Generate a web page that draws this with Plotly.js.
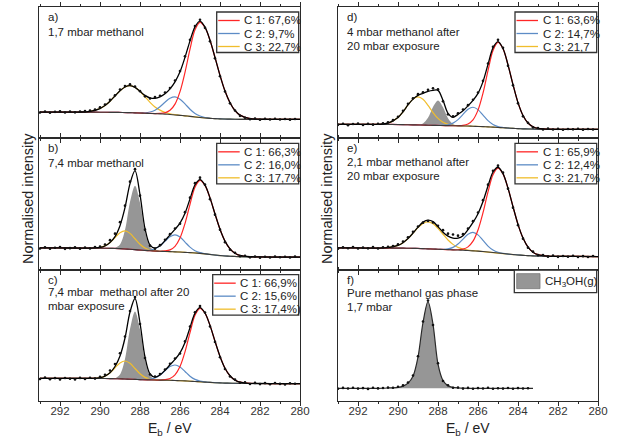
<!DOCTYPE html>
<html><head><meta charset="utf-8">
<script src="https://cdn.plot.ly/plotly-3.0.1.min.js"></script>
<style>html,body{margin:0;padding:0;background:#fff;} #chart{width:624px;height:438px;}</style>
</head><body><div id="chart"></div>
<script>
// ---------------- DATA ----------------
// binding energy grid for fitted curves (eV)
const E = [293,292,291,290.5,290,289.75,289.5,289.25,289,288.75,288.5,288.25,288,287.75,287.5,287.25,287,286.75,286.5,286.25,286,285.75,285.5,285.25,285,284.75,284.5,284.25,284,283.75,283.5,283.25,283,282.5,282,281,280];
// binding energy of measured points (eV)
const E_DOTS = [293,292.75,292.5,292.25,292,291.75,291.5,291.25,291,290.75,290.5,290.25,290,289.75,289.5,289.25,289,288.75,288.5,288.25,288,287.75,287.5,287.25,287,286.75,286.5,286.25,286,285.75,285.5,285.25,285,284.75,284.5,284.25,284,283.75,283.5,283.25,283,282.75,282.5,282.25,282,281.75,281.5,281.25,281,280.75,280.5,280.25];
const E_F = [293,292,291,290.5,290,289.75,289.5,289.25,289,288.75,288.5,288.25,288,287.75,287.5,287.25,287,286.75,286.5,286.25,286,285.75,285.5,285.25,285,284.75,284.5,284.25,284,283.75,283.5,283.25];
const E_F_DOTS = [293,292.75,292.5,292.25,292,291.75,291.5,291.25,291,290.75,290.5,290.25,290,289.75,289.5,289.25,289,288.75,288.5,288.25,288,287.75,287.5,287.25,287,286.75,286.5,286.25,286,285.75,285.5,285.25,285,284.75,284.5,284.25,284,283.75,283.5];

// panel a) 1,7 mbar methanol
const bgA  = [26.3,26.3,26.2,26.2,26.1,26.1,26.0,26.0,25.9,25.8,25.7,25.5,25.3,25.1,24.9,24.7,24.5,24.2,23.8,23.4,23.0,22.5,22.0,21.4,20.9,20.4,20.0,19.7,19.5,19.3,19.2,19.1,19.0,19.0,19.0,19.0,19.0];
const c1A  = [26.3,26.3,26.2,26.2,26.1,26.1,26.0,26.0,25.9,25.8,25.7,25.5,25.3,25.1,24.9,24.8,24.9,25.5,28.0,34.2,46.7,66.0,89.1,108.5,115.9,110.8,98.1,80.9,63.0,47.3,35.6,27.8,23.2,19.7,19.1,19.0,19.0];
const c2A  = [26.3,26.3,26.2,26.2,26.1,26.1,26.0,26.0,25.9,25.8,25.7,25.5,25.4,25.5,26.3,28.1,31.6,36.1,40.0,41.4,39.2,34.4,29.1,24.8,22.3,20.8,20.1,19.7,19.5,19.3,19.2,19.1,19.0,19.0,19.0,19.0,19.0];
const c3A  = [26.3,26.3,26.3,27.0,29.8,32.8,37.1,42.4,47.5,51.3,52.7,51.0,46.9,41.5,36.0,31.4,28.2,26.0,24.6,23.7,23.1,22.5,22.0,21.4,20.9,20.4,20.0,19.7,19.5,19.3,19.2,19.1,19.0,19.0,19.0,19.0,19.0];
const envA = [26.3,26.3,26.3,27.0,29.8,32.8,37.1,42.4,47.5,51.3,52.7,51.0,47.0,43.0,40.5,40.0,41.5,44.5,49.5,56.5,66.5,81.0,97.5,111.5,117.3,111.2,98.2,80.9,63.0,47.3,35.6,27.8,23.2,19.7,19.1,19.0,19.0];
const dotsA = [25.8,26.9,25.6,26.5,27.0,25.9,26.8,26.0,26.9,27.2,27.8,28.9,31.0,33.9,38.5,43.0,48.9,52.4,54.0,51.8,47.2,42.0,39.9,41.2,42.6,45.8,50.3,57.9,67.4,82.0,98.5,112.4,118.6,110.5,97.0,80.0,62.1,46.8,35.0,27.9,22.5,20.6,19.2,19.9,18.6,19.5,18.8,19.6,18.9,19.4,18.7,19.3];

// panel b) 7,4 mbar methanol
const bgB  = [21.7,21.7,21.6,21.5,21.5,21.4,21.3,21.2,21.0,20.7,20.4,20.0,19.6,19.2,18.9,18.6,18.4,18.2,18.0,17.8,17.6,17.3,17.0,16.7,16.3,15.8,15.2,14.6,14.1,13.7,13.4,13.2,13.0,12.8,12.7,12.6,12.5];
const gasB = [21.7,21.7,21.6,21.5,21.5,21.4,21.3,21.7,25.1,39.6,67.6,84.0,66.8,38.1,23.0,19.1,18.4,18.2,18.0,17.8,17.6,17.3,17.0,16.7,16.3,15.8,15.2,14.6,14.1,13.7,13.4,13.2,13.0,12.8,12.7,12.6,12.5];
const c1B  = [21.7,21.7,21.6,21.5,21.5,21.4,21.3,21.2,21.0,20.7,20.4,20.0,19.6,19.2,18.9,18.6,18.4,18.7,19.8,23.3,31.6,46.1,65.3,82.5,89.3,84.3,71.8,55.7,40.4,28.5,20.8,16.4,14.2,12.9,12.7,12.6,12.5];
const c2B  = [21.7,21.7,21.6,21.5,21.5,21.4,21.3,21.2,21.0,20.7,20.4,20.0,19.6,19.4,19.6,20.9,23.9,28.5,33.0,34.8,32.6,27.6,22.5,19.0,17.0,16.0,15.2,14.6,14.1,13.7,13.4,13.2,13.0,12.8,12.7,12.6,12.5];
const c3B  = [21.7,21.7,21.6,21.5,22.3,23.8,27.1,32.1,36.9,38.7,36.3,30.9,25.4,21.6,19.7,18.8,18.4,18.2,18.0,17.8,17.6,17.3,17.0,16.7,16.3,15.8,15.2,14.6,14.1,13.7,13.4,13.2,13.0,12.8,12.7,12.6,12.5];
const envB = [21.7,21.7,21.6,21.6,22.2,23.7,27.1,33.0,44.0,62.0,86.0,99.0,75.0,41.0,24.5,21.6,23.9,29.0,34.8,40.3,46.6,56.4,70.8,84.8,90.0,84.5,71.8,55.7,40.4,28.5,20.8,16.4,14.2,12.9,12.7,12.6,12.5];
const dotsB = [21.2,22.4,20.9,21.9,22.6,20.8,21.5,22.3,21.0,22.1,21.2,22.6,23.0,25.2,29.5,36.0,47.5,64.0,88.0,100.5,74.0,40.0,24.0,21.0,24.5,29.8,35.5,41.2,46.0,57.5,72.0,86.5,92.0,85.0,70.5,55.0,40.0,27.5,20.0,16.8,13.5,13.9,12.3,13.2,12.0,12.9,12.2,13.1,12.4,12.9,12.1,13.0];

// panel c) 7,4 mbar methanol after 20 mbar exposure
const bgC  = [22.7,22.7,22.6,22.6,22.5,22.5,22.4,22.3,22.2,22.0,21.8,21.6,21.4,21.2,21.1,21.0,20.9,20.8,20.7,20.5,20.3,20.1,19.8,19.5,19.2,18.9,18.6,18.3,18.1,17.9,17.8,17.7,17.6,17.5,17.5,17.4,17.4];
const gasC = [22.7,22.7,22.6,22.6,22.5,22.5,22.4,22.8,26.6,42.1,71.9,89.6,71.5,41.3,25.5,21.5,20.9,20.8,20.7,20.5,20.3,20.1,19.8,19.5,19.2,18.9,18.6,18.3,18.1,17.9,17.8,17.7,17.6,17.5,17.5,17.4,17.4];
const c1C  = [22.7,22.7,22.6,22.6,22.5,22.5,22.4,22.3,22.2,22.0,21.8,21.6,21.4,21.2,21.1,21.0,20.9,21.3,22.5,26.1,34.4,49.1,68.4,85.8,92.7,87.8,75.6,59.7,44.6,32.8,25.2,20.9,18.8,17.6,17.5,17.4,17.4];
const c2C  = [22.7,22.7,22.6,22.6,22.5,22.5,22.4,22.3,22.2,22.0,21.8,21.6,21.4,21.4,21.8,23.1,25.9,30.2,34.4,36.0,34.0,29.5,24.8,21.6,19.9,19.1,18.6,18.3,18.1,17.9,17.8,17.7,17.6,17.5,17.5,17.4,17.4];
const c3C  = [22.7,22.7,22.6,22.6,23.3,24.9,28.2,33.2,38.1,40.0,37.7,32.5,27.2,23.6,21.9,21.2,20.9,20.8,20.7,20.5,20.3,20.1,19.8,19.5,19.2,18.9,18.6,18.3,18.1,17.9,17.8,17.7,17.6,17.5,17.5,17.4,17.4];
const envC = [22.7,22.7,22.6,22.6,23.3,24.9,28.2,34.5,45.0,63.0,89.0,102.5,78.0,44.0,27.0,23.8,26.0,30.7,36.2,41.6,48.1,58.5,73.4,87.9,93.4,88.0,75.6,59.7,44.6,32.8,25.2,20.9,18.8,17.6,17.5,17.4,17.4];
const dotsC = [22.0,23.4,21.8,22.9,21.5,23.0,22.2,21.6,23.1,22.0,23.2,22.4,24.3,26.2,30.5,37.0,47.8,64.5,90.0,104.0,77.0,43.0,26.5,24.5,27.0,31.5,37.3,42.5,47.5,59.6,74.5,88.8,95.0,88.5,74.5,59.0,43.8,32.0,24.6,21.5,18.2,18.6,17.0,18.1,16.9,17.9,16.8,18.0,17.1,16.6,17.8,17.2];

// panel d) 4 mbar methanol after 20 mbar exposure
const bgD  = [14.0,14.0,13.9,13.9,13.8,13.7,13.6,13.5,13.4,13.3,13.1,13.0,12.9,12.8,12.7,12.6,12.5,12.4,12.3,12.1,11.9,11.7,11.5,11.2,10.9,10.6,10.3,10.0,9.7,9.5,9.4,9.3,9.2,9.1,9.0,9.0,9.0];
const gasD = [14.0,14.0,13.9,13.9,13.8,13.7,13.6,13.5,13.6,14.9,20.5,31.4,37.9,31.2,20.1,14.2,12.7,12.4,12.3,12.1,11.9,11.7,11.5,11.2,10.9,10.6,10.3,10.0,9.7,9.5,9.4,9.3,9.2,9.1,9.0,9.0,9.0];
const c1D  = [14.0,14.0,13.9,13.9,13.8,13.7,13.6,13.5,13.4,13.3,13.1,13.0,12.9,12.8,12.7,12.6,12.6,12.9,14.4,18.5,28.2,45.2,67.7,87.9,95.9,89.6,73.5,53.7,35.7,22.8,15.3,11.6,9.9,9.2,9.0,9.0,9.0];
const c2D  = [14.0,14.0,13.9,13.9,13.8,13.7,13.6,13.5,13.4,13.3,13.1,13.0,12.9,13.0,13.5,15.2,18.7,23.9,29.1,31.1,28.7,23.2,17.7,13.8,11.7,10.8,10.3,10.0,9.7,9.5,9.4,9.3,9.2,9.1,9.0,9.0,9.0];
const c3D  = [14.0,14.0,14.0,15.1,20.8,26.5,33.4,39.2,41.4,39.0,32.9,25.8,19.9,16.0,13.9,13.0,12.6,12.4,12.3,12.1,11.9,11.7,11.5,11.2,10.9,10.6,10.3,10.0,9.7,9.5,9.4,9.3,9.2,9.1,9.0,9.0,9.0];
const envD = [14.0,14.0,14.0,15.1,20.8,26.5,33.4,39.2,43.0,45.0,47.0,48.0,48.0,38.0,25.0,21.0,24.0,27.5,32.5,38.0,45.0,56.7,73.9,90.5,96.7,89.8,73.5,53.7,35.7,22.8,15.3,11.6,9.9,9.2,9.0,9.0,9.0];
const dotsD = [13.5,14.6,13.2,14.3,14.8,13.4,14.5,13.7,14.6,15.0,16.0,18.2,21.5,27.5,34.6,40.0,44.2,46.0,48.5,50.0,49.0,37.0,24.0,22.0,25.0,28.8,33.2,38.6,45.8,57.5,74.8,91.5,98.5,90.5,72.5,53.0,35.0,22.0,15.5,11.0,10.4,8.8,9.7,8.9,9.5,8.6,9.4,9.0,9.6,8.7,9.3,8.8];

// panel e) 2,1 mbar methanol after 20 mbar exposure
const bgE  = [21.7,21.7,21.6,21.6,21.5,21.5,21.4,21.3,21.2,21.0,20.8,20.6,20.4,20.2,20.0,19.8,19.6,19.4,19.1,18.8,18.5,18.1,17.6,17.1,16.6,16.1,15.6,15.1,14.7,14.3,14.0,13.8,13.6,13.4,13.3,13.2,13.1];
const c1E  = [21.7,21.7,21.6,21.6,21.5,21.5,21.4,21.3,21.2,21.0,20.8,20.6,20.4,20.2,20.0,19.8,19.9,20.6,22.8,28.5,39.7,57.0,77.7,95.0,101.6,95.8,81.5,63.0,45.3,31.6,22.6,17.5,15.0,13.5,13.3,13.2,13.1];
const c2E  = [21.7,21.7,21.6,21.6,21.5,21.5,21.4,21.3,21.2,21.0,20.8,20.6,20.4,20.4,20.8,22.3,25.6,30.6,35.4,37.3,34.8,29.3,23.6,19.6,17.4,16.3,15.6,15.1,14.7,14.3,14.0,13.8,13.6,13.4,13.3,13.2,13.1];
const c3E  = [21.7,21.7,21.6,22.1,24.2,27.0,31.1,36.5,42.1,46.3,47.8,45.9,41.3,35.4,29.7,25.3,22.3,20.6,19.6,19.0,18.5,18.1,17.6,17.1,16.6,16.1,15.6,15.1,14.7,14.3,14.0,13.8,13.6,13.4,13.3,13.2,13.1];
const envE = [21.7,21.7,21.6,22.1,24.2,27.0,31.1,36.5,42.5,47.5,49.5,48.0,43.0,37.5,33.5,31.5,31.5,34.0,40.0,47.2,56.0,68.2,83.7,97.5,102.4,96.0,81.5,63.0,45.3,31.6,22.6,17.5,15.0,13.5,13.3,13.2,13.1];
const dotsE = [21.0,22.3,21.4,22.6,21.1,22.0,21.3,22.5,21.2,22.4,22.9,23.6,25.3,28.0,32.4,37.8,43.2,47.0,48.6,47.2,43.8,39.5,36.0,35.2,34.0,35.5,41.0,48.5,57.2,69.5,85.0,98.8,104.0,97.0,81.0,62.0,44.5,31.0,22.0,18.0,14.5,14.6,13.0,14.0,12.8,13.7,12.9,13.8,12.7,13.5,12.6,13.6];

// panel f) pure methanol gas phase, 1,7 mbar
const bgF  = [12.7,12.7,12.7,12.7,12.7,12.7,12.7,12.7,12.7,12.7,12.7,12.7,12.7,12.7,12.7,12.7,12.7,12.7,12.7,12.7,12.7,12.7,12.7,12.7,12.7,12.7,12.7,12.7,12.7,12.7,12.7,12.7];
const gasF = [12.7,12.7,12.7,13.0,13.7,14.9,17.9,24.8,43.9,78.5,99.3,76.7,36.9,20.5,15.3,13.6,13.0,12.8,12.7,12.7,12.7,12.7,12.7,12.7,12.7,12.7,12.7,12.7,12.7,12.7,12.7,12.7];
const dotsF = [12.2,13.1,12.5,13.3,12.4,12.9,12.1,13.2,12.6,13.0,13.4,13.2,14.2,15.6,18.5,25.5,44.8,79.5,100.5,76.0,37.8,20.0,15.8,13.2,13.4,12.4,13.1,12.3,12.9,12.5,13.2,12.2,12.8,12.4,13.0,12.3,12.9,12.5,12.8];

// texts
const TICK_VALS = [292,290,288,286,284,282,280];
const TICK_TEXT = ['292','290','288','286','284','282','280'];
const MINOR_VALS = [293,291,289,287,285,283,281];
const legA = ['C 1: 67,6%','C 2: 9,7%','C 3: 22,7%'];
const legB = ['C 1: 66,3%','C 2: 16,0%','C 3: 17,7%'];
const legC = ['C 1: 66,9%','C 2: 15,6%','C 3: 17,4%)'];
const legD = ['C 1: 63,6%','C 2: 14,7%','C 3: 21,7'];
const legE = ['C 1: 65,9%','C 2: 12,4%','C 3: 21,7%'];
const legF = 'CH<sub>3</sub>OH(g)';
const labA = ['a)','1,7 mbar methanol'];
const labB = ['b)','7,4 mbar methanol'];
const labC = ['c)','7,4 mbar\u00a0 methanol after 20','mbar exposure'];
const labD = ['d)','4 mbar methanol after','20 mbar exposure'];
const labE = ['e)','2,1 mbar methanol after','20 mbar exposure'];
const labF = ['f)','Pure methanol gas phase','1,7 mbar'];
const X_TITLE = 'E<sub>b</sub> / eV';
const Y_TITLE = 'Normalised intensity';

// ---------------- STYLE / LAYOUT ----------------
const W=624,H=438,L=39,R=26,T=7,B=37;
const PW=W-L-R, PH=H-T-B;
const px2x = p => (p-L)/PW;
const py2y = p => (H-B-p)/PH;
const COLS = [{left:39,right:300,range:[293.05,280]},{left:338,right:598,range:[293.0,280]}];
const ROWH = PH/3;
const FONT = 'Liberation Sans, Arial, sans-serif';
const RED='#ff2626', BLUE='#5d8cc6', YEL='#f0bd2c', GRAY='#969696', DARK='#2a2a2a';

const panels = [
  {n:1,col:0,row:0,bg:bgA,c1:c1A,c2:c2A,c3:c3A,env:envA,dots:dotsA,leg:legA,lab:labA,lx:216.7,l2:25},
  {n:2,col:0,row:1,bg:bgB,gas:gasB,c1:c1B,c2:c2B,c3:c3B,env:envB,dots:dotsB,leg:legB,lab:labB,lx:216.7,l2:25},
  {n:3,col:0,row:2,bg:bgC,gas:gasC,c1:c1C,c2:c2C,c3:c3C,env:envC,dots:dotsC,leg:legC,lab:labC,lx:212.7,l2:22.5,ticks:true},
  {n:4,col:1,row:0,bg:bgD,gas:gasD,c1:c1D,c2:c2D,c3:c3D,env:envD,dots:dotsD,leg:legD,lab:labD,lx:515,l2:25},
  {n:5,col:1,row:1,bg:bgE,c1:c1E,c2:c2E,c3:c3E,env:envE,dots:dotsE,leg:legE,lab:labE,lx:515,l2:24},
  {n:6,col:1,row:2,f:true,lab:labF,l2:23.5,ticks:true}
];

const data=[], shapes=[], annotations=[];
const layout = {width:W,height:H,margin:{l:L,r:R,t:T,b:B},paper_bgcolor:'#fff',plot_bgcolor:'#fff',
  showlegend:false,font:{family:FONT,color:'#222'}};

const line = (x,y,xa,ya,color,width,extra) => Object.assign({type:'scatter',mode:'lines',x:x,y:y,xaxis:xa,yaxis:ya,
  line:{color:color,width:width,shape:'spline',smoothing:0.9},hoverinfo:'skip'},extra||{});

panels.forEach(p=>{
  const sfx = p.n===1?'':String(p.n);
  const xa='x'+sfx, ya='y'+sfx;
  const col=COLS[p.col];
  const top = T + p.row*ROWH;
  const bottom = top+ROWH;
  layout['xaxis'+sfx] = {domain:[px2x(col.left),px2x(col.right)],anchor:ya,range:col.range,
    showline:true,mirror:'ticks',linecolor:DARK,linewidth:1,ticks:'outside',ticklen:4,tickwidth:1,tickcolor:DARK,
    tickmode:'array',tickvals:TICK_VALS,ticktext:TICK_TEXT,showticklabels:!!p.ticks,ticklabelstandoff:-5,
    tickfont:{family:FONT,size:11.5,color:'#333'},showgrid:false,zeroline:false,
    minor:{tickmode:'array',tickvals:MINOR_VALS,ticks:'outside',ticklen:2,tickwidth:1,tickcolor:DARK,showgrid:false}};
  layout['yaxis'+sfx] = {domain:[py2y(bottom),py2y(top)],anchor:xa,range:[0,ROWH],showline:true,mirror:true,
    linecolor:DARK,linewidth:1,ticks:'',showticklabels:false,showgrid:false,zeroline:false};

  if(p.f){
    data.push(line(E_F,bgF,xa,ya,DARK,0));
    data.push(line(E_F,gasF,xa,ya,DARK,1.2,{fill:'tonexty',fillcolor:GRAY}));
    data.push({type:'scatter',mode:'markers',x:E_F_DOTS,y:dotsF,xaxis:xa,yaxis:ya,marker:{color:'#111',size:2.6},hoverinfo:'skip'});
  } else {
    if(p.gas){
      data.push(line(E,p.bg,xa,ya,DARK,0));
      data.push(line(E,p.gas,xa,ya,GRAY,0,{fill:'tonexty',fillcolor:GRAY}));
    }
    data.push(line(E,p.c3,xa,ya,YEL,1.2));
    data.push(line(E,p.c2,xa,ya,BLUE,1.2));
    data.push(line(E,p.c1,xa,ya,RED,1.2));
    data.push(line(E,p.bg,xa,ya,'#3a3a3a',1.1));
    data.push(line(E,p.env,xa,ya,'#000',1.3));
    data.push({type:'scatter',mode:'markers',x:E_DOTS,y:p.dots,xaxis:xa,yaxis:ya,marker:{color:'#111',size:2.6},hoverinfo:'skip'});
  }

  // panel labels
  const tx = col.left+6.5;
  const ys=[top+10, top+p.l2, top+p.l2+14];
  p.lab.forEach((t,i)=>annotations.push({text:t,xref:'paper',yref:'paper',x:px2x(tx),y:py2y(ys[i]),
    xanchor:'left',yanchor:'middle',showarrow:false,font:{family:FONT,size:11.5,color:'#222'}}));

  // legend box
  const bx1 = p.f?514.3:p.lx, bx2 = col.right-1.3;
  if(p.f){
    const by1=top+0.5, by2=top+23;
    shapes.push({type:'rect',xref:'paper',yref:'paper',x0:px2x(bx1),x1:px2x(bx2),y0:py2y(by2),y1:py2y(by1),line:{color:'#333',width:1.3},fillcolor:'#fff'});
    shapes.push({type:'rect',xref:'paper',yref:'paper',x0:px2x(516.7),x1:px2x(540),y0:py2y(top+19),y1:py2y(top+4),line:{color:'#777',width:0.8},fillcolor:GRAY});
    annotations.push({text:legF,xref:'paper',yref:'paper',x:px2x(543),y:py2y(top+12),xanchor:'left',yanchor:'middle',showarrow:false,font:{family:FONT,size:11.5,color:'#222'}});
  } else {
    const by1=top+5, by2=top+45.5;
    shapes.push({type:'rect',xref:'paper',yref:'paper',x0:px2x(bx1),x1:px2x(bx2),y0:py2y(by2),y1:py2y(by1),line:{color:'#333',width:1.3},fillcolor:'#fff'});
    const cols=[RED,BLUE,YEL];
    const rows=[top+13.5,top+26.5,top+39.5];
    p.leg.forEach((t,i)=>{
      shapes.push({type:'line',xref:'paper',yref:'paper',x0:px2x(bx1+1.5),x1:px2x(bx1+23),y0:py2y(rows[i]),y1:py2y(rows[i]),line:{color:cols[i],width:1.3}});
      annotations.push({text:t,xref:'paper',yref:'paper',x:px2x(bx1+25.5),y:py2y(rows[i]),xanchor:'left',yanchor:'middle',showarrow:false,font:{family:FONT,size:11.5,color:'#222'}});
    });
  }
});

// axis titles
[169.5,468].forEach(cx=>annotations.push({text:X_TITLE,xref:'paper',yref:'paper',x:px2x(cx),y:py2y(429),xanchor:'center',yanchor:'middle',showarrow:false,font:{family:FONT,size:14,color:'#222'}}));
[28,327].forEach(cx=>annotations.push({text:Y_TITLE,xref:'paper',yref:'paper',x:px2x(cx),y:py2y(199),xanchor:'center',yanchor:'middle',textangle:-90,showarrow:false,font:{family:FONT,size:14.5,color:'#222'}}));

layout.shapes=shapes; layout.annotations=annotations;
Plotly.newPlot('chart',data,layout,{displayModeBar:false,staticPlot:true});
</script></body></html>
